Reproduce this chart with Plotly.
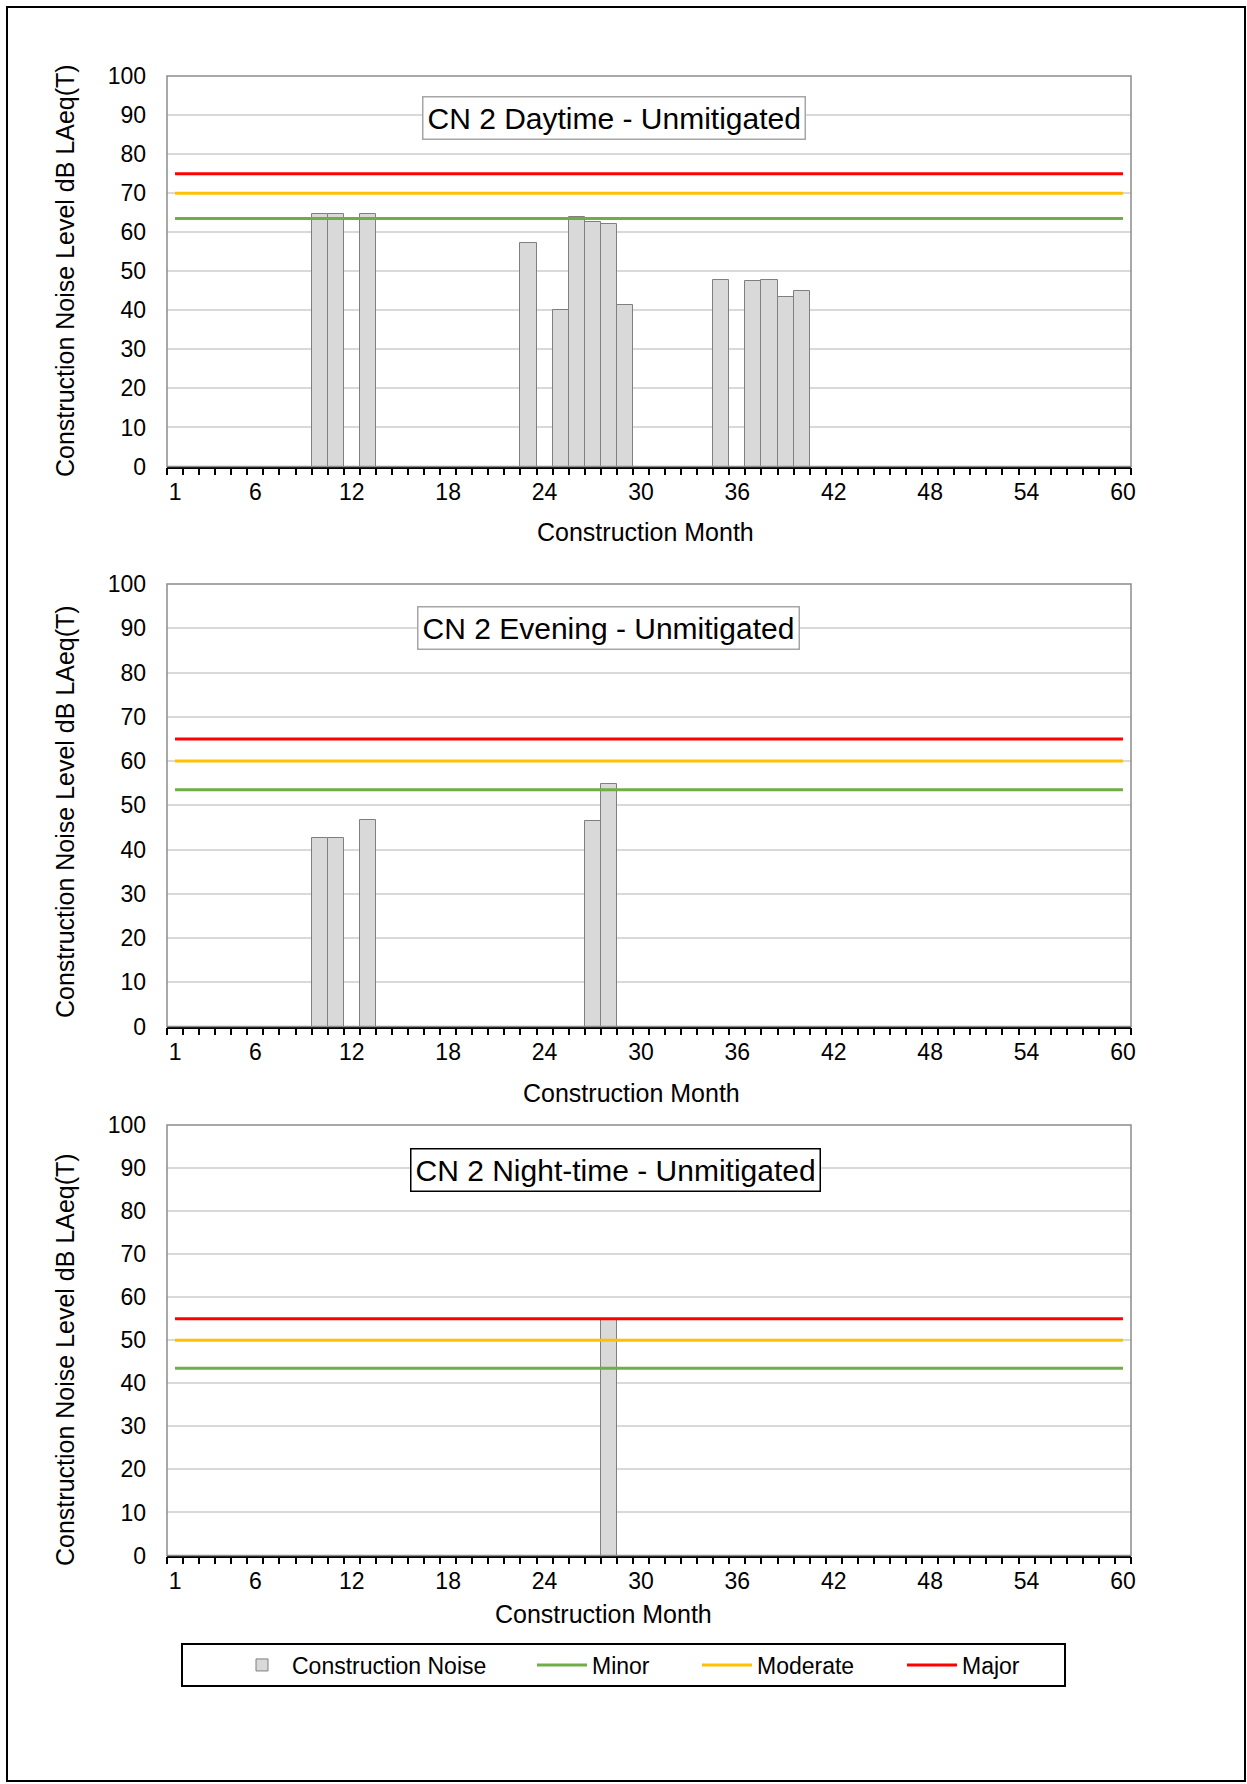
import plotly.graph_objects as go

# ---------------- data ----------------
months = list(range(1, 61))
tick_months = [1, 6, 12, 18, 24, 30, 36, 42, 48, 54, 60]

day_months = [10, 11, 13, 23, 25, 26, 27, 28, 29, 35, 37, 38, 39, 40]
day_levels = [64.6, 64.6, 64.6, 57.3, 40.2, 63.8, 62.5, 62.1, 41.3, 47.8, 47.4, 47.8, 43.5, 45.0]

eve_months = [10, 11, 13, 27, 28]
eve_levels = [42.6, 42.6, 46.7, 46.5, 54.7]

night_months = [28]
night_levels = [55.0]

day_thresholds = {"Minor": 63.5, "Moderate": 70, "Major": 75}
eve_thresholds = {"Minor": 53.5, "Moderate": 60, "Major": 65}
night_thresholds = {"Minor": 43.5, "Moderate": 50, "Major": 55}

titles = ["CN 2 Daytime - Unmitigated", "CN 2 Evening - Unmitigated", "CN 2 Night-time - Unmitigated"]

# ---------------- layout constants ----------------
W, H = 1247, 1784
FONT = "Liberation Sans, Arial, sans-serif"
colors = {"Minor": "#70ad47", "Moderate": "#ffc000", "Major": "#ff0000"}

def px_x(p):
    return p / W

def px_y(p):
    return 1 - p / H

x_dom = [px_x(167), px_x(1131)]
panels = [
    dict(top=76, bottom=466.5, xt=(645, 532), yt=271, tb=(613.5, 118), tbc="#a6a6a6"),
    dict(top=584, bottom=1026.5, xt=(631, 1093), yt=812, tb=(608.5, 627.5), tbc="#a6a6a6"),
    dict(top=1125, bottom=1555.5, xt=(603, 1614), yt=1360, tb=(615, 1170), tbc="#000000"),
]
series = [
    (day_months, day_levels, day_thresholds),
    (eve_months, eve_levels, eve_thresholds),
    (night_months, night_levels, night_thresholds),
]
legend_ids = {"cn": "legend", "Minor": "legend2", "Moderate": "legend3", "Major": "legend4"}
legend_x = {"legend": 232, "legend2": 532, "legend3": 697, "legend4": 902}

fig = go.Figure()
shapes = []
annotations = []

for i, (p, (bm, bl, th)) in enumerate(zip(panels, series)):
    n = i + 1
    xa = "x" if n == 1 else f"x{n}"
    ya = "y" if n == 1 else f"y{n}"
    fig.add_trace(go.Bar(
        x=bm, y=bl, width=1.0, name="Construction Noise",
        marker=dict(color="#d9d9d9", line=dict(color="#7f7f7f", width=1)),
        xaxis=xa, yaxis=ya, showlegend=(n == 1), legend=legend_ids["cn"],
    ))
    for key in ["Minor", "Moderate", "Major"]:
        fig.add_trace(go.Scatter(
            x=[months[0], months[-1]], y=[th[key], th[key]], mode="lines",
            name=key, line=dict(color=colors[key], width=3),
            xaxis=xa, yaxis=ya, showlegend=(n == 1), legend=legend_ids[key],
        ))

    xkey = "xaxis" if n == 1 else f"xaxis{n}"
    ykey = "yaxis" if n == 1 else f"yaxis{n}"
    fig.update_layout(**{
        xkey: dict(
            domain=x_dom, anchor=ya, range=[0.5, 60.5], automargin=False,
            tickmode="array", tickvals=tick_months, ticktext=[str(t) for t in tick_months],
            ticks="", showgrid=False, zeroline=False,
            showline=True, linecolor="#000000", linewidth=1.5,
            tickfont=dict(family=FONT, size=23, color="#000000"),
            ticklabelstandoff=4,
            minor=dict(tick0=0.5, dtick=1, ticks="outside", ticklen=7,
                       tickcolor="#000000", tickwidth=1.5, showgrid=False),
        ),
        ykey: dict(
            domain=[px_y(p["bottom"]), px_y(p["top"])], anchor=xa, automargin=False,
            range=[0, 100], dtick=10, tick0=0,
            showgrid=True, gridcolor="#d9d9d9", gridwidth=2,
            zeroline=False, showline=False, ticks="",
            tickfont=dict(family=FONT, size=23, color="#000000"),
            ticklabelstandoff=20,
        ),
    })
    shapes.append(dict(type="rect", xref=f"{xa} domain", yref=f"{ya} domain",
                       x0=0, x1=1, y0=0, y1=1, line=dict(color="#8c8c8c", width=1.5),
                       layer="above"))
    annotations.append(dict(text="Construction Month", xref="paper", yref="paper",
                            x=px_x(p["xt"][0]), y=px_y(p["xt"][1]), showarrow=False,
                            xanchor="center", yanchor="middle",
                            font=dict(family=FONT, size=25, color="#000000")))
    annotations.append(dict(text="Construction Noise Level dB LAeq(T)", xref="paper", yref="paper",
                            x=px_x(65), y=px_y(p["yt"]), showarrow=False, textangle=-90,
                            xanchor="center", yanchor="middle",
                            font=dict(family=FONT, size=25, color="#000000")))
    annotations.append(dict(text=titles[i], xref="paper", yref="paper",
                            x=px_x(p["tb"][0]), y=px_y(p["tb"][1]), showarrow=False,
                            xanchor="center", yanchor="middle",
                            bgcolor="#ffffff", bordercolor=p["tbc"], borderwidth=1.5, borderpad=4,
                            font=dict(family=FONT, size=30, color="#000000")))

# legend box and outer border
shapes.append(dict(type="rect", xref="paper", yref="paper",
                   x0=px_x(182), x1=px_x(1065), y0=px_y(1686), y1=px_y(1644),
                   line=dict(color="#000000", width=2)))
shapes.append(dict(type="rect", xref="paper", yref="paper",
                   x0=px_x(7), x1=px_x(1245), y0=px_y(1781), y1=px_y(7),
                   line=dict(color="#000000", width=2)))

legend_common = dict(orientation="h", yanchor="middle", y=px_y(1665), xanchor="left",
                     borderwidth=0, bgcolor="rgba(0,0,0,0)", itemwidth=50,
                     font=dict(family=FONT, size=23, color="#000000"))
fig.update_layout(
    width=W, height=H, margin=dict(l=0, r=0, t=0, b=0, autoexpand=False),
    paper_bgcolor="#ffffff", plot_bgcolor="#ffffff",
    bargap=0, barmode="overlay",
    font=dict(family=FONT, size=23, color="#000000"),
    shapes=shapes, annotations=annotations,
    legend=dict(x=px_x(legend_x["legend"]), **legend_common),
    legend2=dict(x=px_x(legend_x["legend2"]), **legend_common),
    legend3=dict(x=px_x(legend_x["legend3"]), **legend_common),
    legend4=dict(x=px_x(legend_x["legend4"]), **legend_common),
)

fig.write_html("out.html", config={"displayModeBar": False},
               post_script="document.body.style.margin='0';")
